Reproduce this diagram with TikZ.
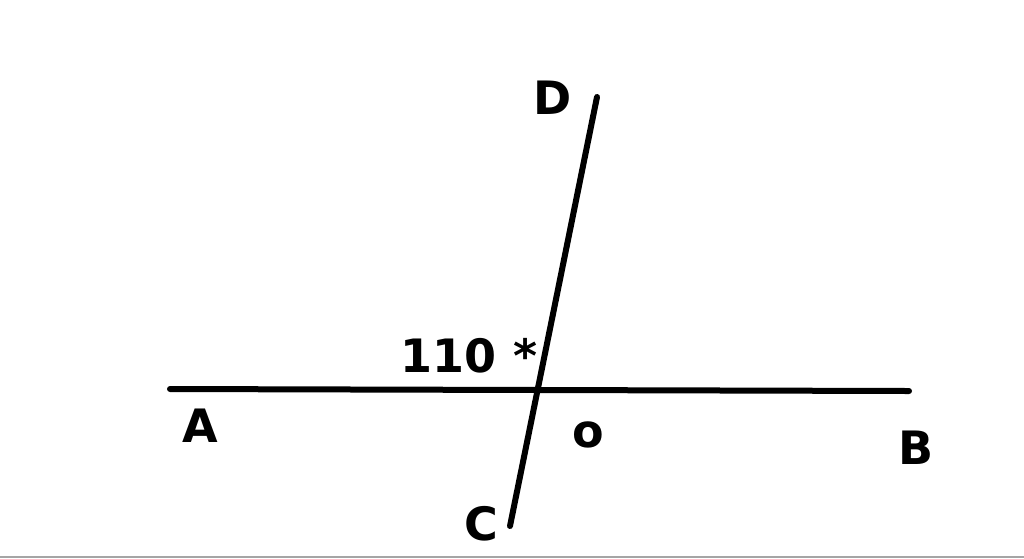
\documentclass[tikz,border=0pt]{standalone}
\usepackage{fontspec}
\setmainfont{DejaVu Sans}
\tikzset{
  lbl/.style={inner sep=0pt, font=\fontsize{46}{46}\selectfont\bfseries},
  thick line/.style={line width=6pt, line cap=round, black},
}
\begin{document}
\begin{tikzpicture}[x=1pt,y=-1pt]
\useasboundingbox[fill=white] (0,0) rectangle (1024,558);
\draw[line width=2pt, color={rgb,255:red,165;green,165;blue,165}] (0,556.5) -- (1024,556.5);
\coordinate (Aend) at (170,389);
\coordinate (Bend) at (909,391);
\coordinate (Dend) at (597,97);
\coordinate (Cend) at (510,526);
\draw[thick line] (Aend) -- (Bend);
\draw[thick line] (Dend) -- (Cend);
\node[lbl] (A) at (200,426) {A};
\node[lbl] (B) at (916,448) {B};
\node[lbl] (C) at (481,524) {C};
\node[lbl] (D) at (553,98) {D};
\node[lbl] (O) at (588,435) {o};
\node[lbl] (ang) at (469,356) {110 *};
\end{tikzpicture}
\end{document}
